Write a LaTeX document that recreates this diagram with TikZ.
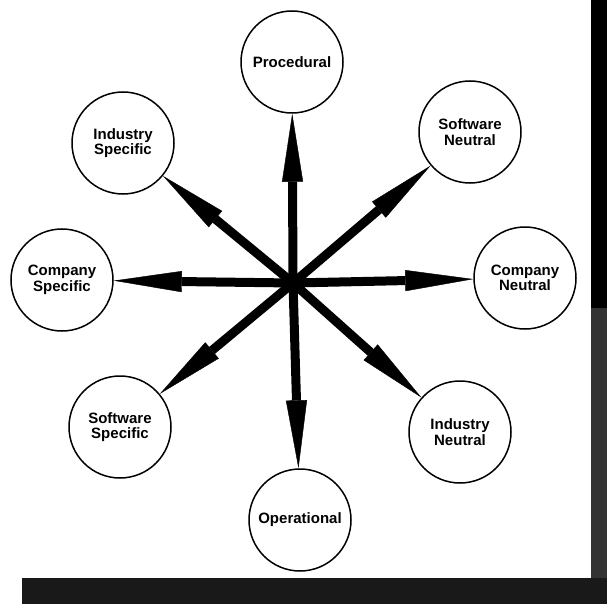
\documentclass[tikz,border=0pt]{standalone}
\usepackage{fontspec}
\setmainfont{Liberation Sans}
\usetikzlibrary{arrows.meta}

\begin{document}
\begin{tikzpicture}[x=1pt, y=-1pt,
  bubble/.style={circle, draw, line width=1.5pt, minimum size=102pt, inner sep=0pt,
    align=center, font=\fontsize{15}{15.5}\selectfont\bfseries},
  spoke/.style={line width=9pt, -{Triangle[length=68pt, width=21pt, line width=0.4pt]}}]
  \useasboundingbox (0,0) rectangle (607,604);
  % scan edges
  \fill[black] (591,0) rectangle (607,308);
  \fill[black!80] (591,308) rectangle (607,604);
  \fill[black!90] (22,578) rectangle (607,604);

  \coordinate (hub) at (293,283);
  \node[bubble] (proc) at (292,62) {Procedural};
  \node[bubble] (softneu) at (470,132) {Software\\Neutral};
  \node[bubble] (compneu) at (525,278) {Company\\Neutral};
  \node[bubble] (indneu) at (460,432) {Industry\\Neutral};
  \node[bubble] (oper) at (300,520) {Operational};
  \node[bubble] (softspec) at (120,427) {Software\\Specific};
  \node[bubble] (compspec) at (62,280) {Company\\Specific};
  \node[bubble] (indspec) at (123,143) {Industry\\Specific};

  \foreach \n in {proc, softneu, compneu, indneu, oper, softspec, compspec, indspec}
    \draw[spoke] (hub) -- (\n);
\end{tikzpicture}
\end{document}
